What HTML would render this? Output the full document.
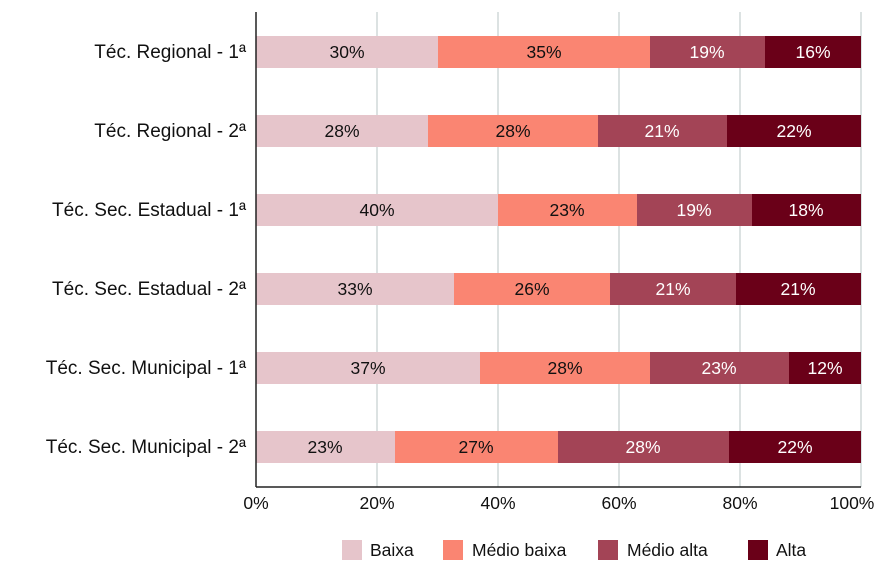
<!DOCTYPE html>
<html><head><meta charset="utf-8"><style>
body{margin:0;background:#fff}
svg text{font-family:"Liberation Sans",sans-serif;font-size:17.5px}
svg .lab text{font-size:19px}
</style></head><body>
<svg width="887" height="580" xmlns="http://www.w3.org/2000/svg">
<g stroke="#b8c4c4" stroke-width="1">
<line x1="377" y1="12" x2="377" y2="487"/><line x1="498" y1="12" x2="498" y2="487"/>
<line x1="619" y1="12" x2="619" y2="487"/><line x1="740" y1="12" x2="740" y2="487"/>
<line x1="861" y1="12" x2="861" y2="487"/>
</g>
<g id="bars">
<rect x="256" y="36" width="182" height="32" fill="#e6c5cb"/><rect x="438" y="36" width="212" height="32" fill="#fa8572"/><rect x="650" y="36" width="115" height="32" fill="#a34456"/><rect x="765" y="36" width="96" height="32" fill="#6a0018"/>
<rect x="256" y="115" width="172" height="32" fill="#e6c5cb"/><rect x="428" y="115" width="170" height="32" fill="#fa8572"/><rect x="598" y="115" width="129" height="32" fill="#a34456"/><rect x="727" y="115" width="134" height="32" fill="#6a0018"/>
<rect x="256" y="194" width="242" height="32" fill="#e6c5cb"/><rect x="498" y="194" width="139" height="32" fill="#fa8572"/><rect x="637" y="194" width="115" height="32" fill="#a34456"/><rect x="752" y="194" width="109" height="32" fill="#6a0018"/>
<rect x="256" y="273" width="198" height="32" fill="#e6c5cb"/><rect x="454" y="273" width="156" height="32" fill="#fa8572"/><rect x="610" y="273" width="126" height="32" fill="#a34456"/><rect x="736" y="273" width="125" height="32" fill="#6a0018"/>
<rect x="256" y="352" width="224" height="32" fill="#e6c5cb"/><rect x="480" y="352" width="170" height="32" fill="#fa8572"/><rect x="650" y="352" width="139" height="32" fill="#a34456"/><rect x="789" y="352" width="72" height="32" fill="#6a0018"/>
<rect x="256" y="431" width="139" height="32" fill="#e6c5cb"/><rect x="395" y="431" width="163" height="32" fill="#fa8572"/><rect x="558" y="431" width="171" height="32" fill="#a34456"/><rect x="729" y="431" width="132" height="32" fill="#6a0018"/>
</g>
<line x1="256" y1="12" x2="256" y2="487" stroke="#222" stroke-width="1.5"/>
<line x1="256" y1="487" x2="861" y2="487" stroke="#222" stroke-width="1.5"/>
<g text-anchor="middle" fill="#111">
<text x="347" y="58">30%</text><text x="544" y="58">35%</text><text x="707" y="58" fill="#fff">19%</text><text x="813" y="58" fill="#fff">16%</text>
<text x="342" y="137">28%</text><text x="513" y="137">28%</text><text x="662" y="137" fill="#fff">21%</text><text x="794" y="137" fill="#fff">22%</text>
<text x="377" y="216">40%</text><text x="567" y="216">23%</text><text x="694" y="216" fill="#fff">19%</text><text x="806" y="216" fill="#fff">18%</text>
<text x="355" y="295">33%</text><text x="532" y="295">26%</text><text x="673" y="295" fill="#fff">21%</text><text x="798" y="295" fill="#fff">21%</text>
<text x="368" y="374">37%</text><text x="565" y="374">28%</text><text x="719" y="374" fill="#fff">23%</text><text x="825" y="374" fill="#fff">12%</text>
<text x="325" y="453">23%</text><text x="476" y="453">27%</text><text x="643" y="453" fill="#fff">28%</text><text x="795" y="453" fill="#fff">22%</text>
<text x="256" y="509">0%</text><text x="377" y="509">20%</text><text x="498" y="509">40%</text><text x="619" y="509">60%</text><text x="740" y="509">80%</text><text x="852" y="509">100%</text>
</g>
<g class="lab" text-anchor="end" fill="#111">
<text x="246" y="58">Téc. Regional - 1ª</text>
<text x="246" y="137">Téc. Regional - 2ª</text>
<text x="246" y="216">Téc. Sec. Estadual - 1ª</text>
<text x="246" y="295">Téc. Sec. Estadual - 2ª</text>
<text x="246" y="374">Téc. Sec. Municipal - 1ª</text>
<text x="246" y="453">Téc. Sec. Municipal - 2ª</text>
</g>
<rect x="342" y="540" width="20" height="20" fill="#e6c5cb"/><text x="370" y="556" fill="#111">Baixa</text>
<rect x="443" y="540" width="20" height="20" fill="#fa8572"/><text x="472" y="556" fill="#111">Médio baixa</text>
<rect x="598" y="540" width="20" height="20" fill="#a34456"/><text x="627" y="556" fill="#111">Médio alta</text>
<rect x="748" y="540" width="20" height="20" fill="#6a0018"/><text x="776" y="556" fill="#111">Alta</text>
</svg>
</body></html>
